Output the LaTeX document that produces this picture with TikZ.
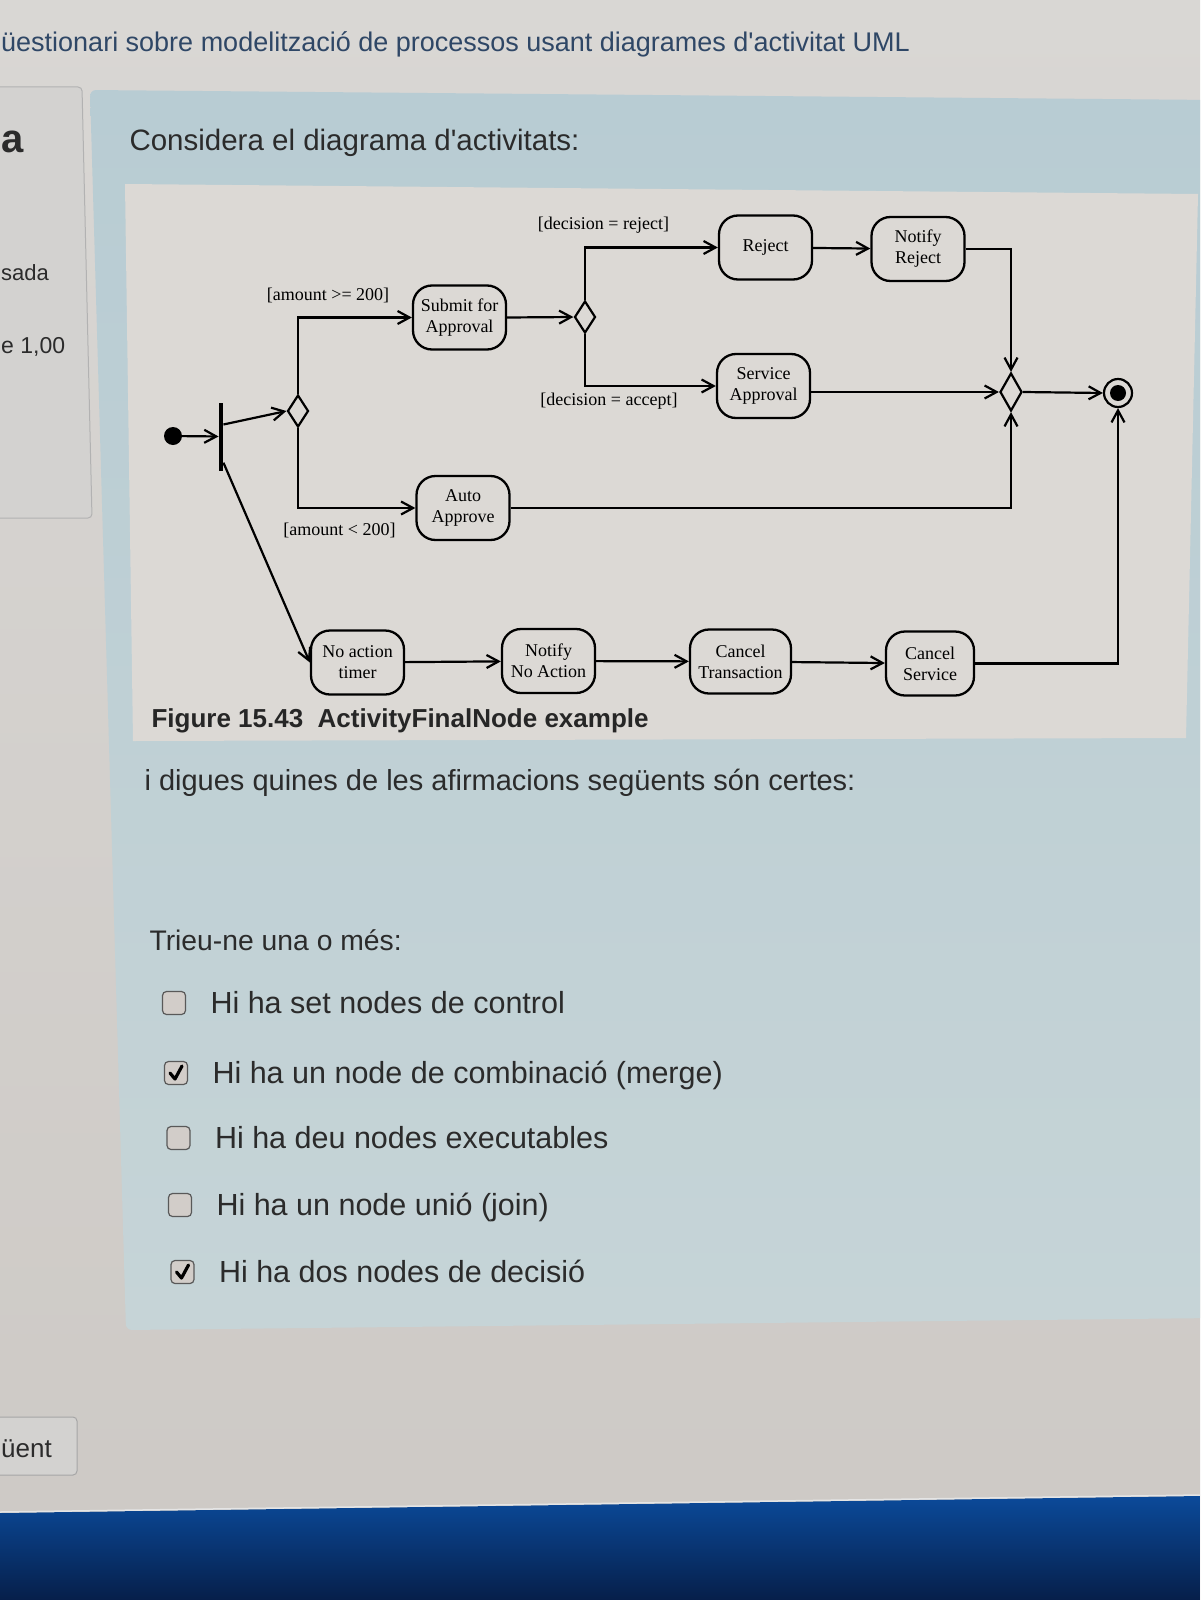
\documentclass[tikz,border=0pt]{standalone}
\usepackage{fontspec}
\setmainfont{Liberation Serif}
\setsansfont[Ligatures=TeXOff]{Liberation Sans}
\usetikzlibrary{arrows.meta,shapes.geometric}

\definecolor{pagetop}{HTML}{D9D7D4}
\definecolor{pagebot}{HTML}{CDC9C5}
\definecolor{paneltop}{HTML}{B8CCD3}
\definecolor{panelbot}{HTML}{C6D4D7}
\definecolor{figbg}{HTML}{DCD9D5}
\definecolor{sidebg}{HTML}{D3D2D0}
\definecolor{titleblue}{HTML}{2F4766}
\definecolor{pagetext}{HTML}{2B2B2B}
\definecolor{boxgrey}{HTML}{D2CDC9}
\definecolor{navytop}{HTML}{0B4A9A}
\definecolor{navybot}{HTML}{061F4A}

\begin{document}
\begin{tikzpicture}[x=1pt, y=-1pt,
  act/.style={draw, line width=2.3pt, rounded corners=19pt, minimum width=93pt,
    minimum height=64pt, inner sep=1pt, align=center, font=\fontsize{18}{21}\selectfont},
  dec/.style={draw, diamond, line width=2.2pt, inner sep=0pt, minimum width=21pt, minimum height=32pt},
  guard/.style={font=\fontsize{18}{20}\selectfont},
  flow/.style={line width=2.2pt, -{Straight Barb[length=12pt, width=13pt]}},
  pagetxt/.style={anchor=base west, text=pagetext, font=\sffamily\fontsize{29}{33}\selectfont},
  tickbox/.style={draw=gray!70!black, fill=boxgrey, rounded corners=4pt, line width=1.2pt,
    minimum size=23pt, inner sep=0pt}]
\useasboundingbox (0,0) rectangle (1200,1600);
\clip (0,0) rectangle (1200,1600);

% page, side column and question panel
\shade[top color=pagetop, bottom color=pagebot] (0,0) rectangle (1200,1600);
\filldraw[fill=sidebg, draw=gray!60, line width=1pt, rounded corners=4pt]
  (-10,87) -- (82,87) -- (92,518) -- (-10,518) -- cycle;
\shade[top color=paneltop, bottom color=panelbot, rounded corners=6pt]
  (90,90) -- (1215,100) -- (1215,1318) -- (126,1330) -- cycle;
\fill[figbg] (125,184) -- (1198,194) -- (1186,738) -- (133,741) -- cycle;
\shade[top color=navytop, bottom color=navybot] (0,1513) -- (1200,1496) -- (1200,1600) -- (0,1600) -- cycle;
\draw[white!80!gray, line width=1.5pt] (0,1512) -- (1200,1495);
\filldraw[fill=sidebg, draw=gray!70, line width=1pt, rounded corners=4pt] (-10,1417) rectangle (77,1475);

\node[anchor=base west, inner sep=1pt, text=titleblue, font=\sffamily\fontsize{27}{30}\selectfont] (title) at (0,52)
  {üestionari sobre modelització de processos usant diagrames d'activitat UML};
\node[anchor=base west, inner sep=1pt, text=pagetext, font=\sffamily\bfseries\fontsize{40}{44}\selectfont] (qnum) at (0,152) {a};
\node[anchor=base west, inner sep=1pt, text=pagetext, font=\sffamily\fontsize{22}{26}\selectfont] (state) at (0,280) {sada};
\node[anchor=base west, inner sep=1pt, text=pagetext, font=\sffamily\fontsize{23}{26}\selectfont] (grade) at (0,353) {e 1,00};
\node[anchor=base west, inner sep=1pt, text=pagetext, font=\sffamily\fontsize{26}{30}\selectfont] (next) at (0,1457) {üent};

\node[pagetxt, font=\sffamily\fontsize{29.5}{33}\selectfont] (intro) at (126,150) {Considera el diagrama d'activitats:};
\node[anchor=base west, text=black!85, font=\sffamily\bfseries\fontsize{26}{29}\selectfont] (caption) at (148,727)
  {Figure 15.43~ ActivityFinalNode example};
\node[pagetxt] (ask) at (141,790) {i digues quines de les afirmacions següents són certes:};
\node[pagetxt, font=\sffamily\fontsize{28.3}{32}\selectfont] (choose) at (146,950) {Trieu-ne una o més:};

% answers
\foreach \ypos/\xbox/\answer/\marked [count=\n] in
  {1003/174/{Hi ha set nodes de control}/0,
   1073/176/{Hi ha un node de combinació (merge)}/1,
   1138/178.5/{Hi ha deu nodes executables}/0,
   1205/180/{Hi ha un node unió (join)}/0,
   1272/182.5/{Hi ha dos nodes de decisió}/1}
{
  \node[tickbox] (box\n) at (\xbox,\ypos) {};
  \node[pagetxt, font=\sffamily\fontsize{30.5}{34}\selectfont] (answer\n) at (\xbox+33,\ypos+10) {\answer};
  \ifnum\marked=1
    \draw[line width=3.2pt, line cap=round, line join=round]
      ([shift={(-6,0)}]box\n.center) -- ([shift={(-1,6)}]box\n.center) -- ([shift={(6,-7)}]box\n.center);
  \fi
}

% activity diagram
\node[circle, fill, minimum size=18pt, inner sep=0pt] (init) at (173,436) {};
\node[fill, minimum width=4.5pt, minimum height=68pt, inner sep=0pt] (fork) at (221,436.5) {};
\node[dec] (dec1) at (298,411) {};
\node[act] (submit) at (459.5,317.5) {Submit for\\Approval};
\node[act] (auto) at (463,508) {Auto\\Approve};
\node[dec] (dec2) at (585,317) {};
\node[act] (reject) at (765.5,247.5) {Reject};
\node[act] (notrej) at (918,249) {Notify\\Reject};
\node[act] (service) at (763.5,386) {Service\\Approval};
\node[dec, minimum width=22pt, minimum height=38pt] (merge) at (1011,392) {};
\node[circle, draw, line width=2.2pt, minimum size=28pt, inner sep=0pt] (final) at (1118,393) {};
\fill (final.center) circle (8pt);
\node[act] (noact) at (357.5,662.5) {No action\\timer};
\node[act] (notnoact) at (548.5,661) {Notify\\No Action};
\node[act, minimum width=101pt] (canctr) at (740.5,661.5) {Cancel\\Transaction};
\node[act, minimum width=88pt] (cancsrv) at (930,663.5) {Cancel\\Service};

\node[guard] (g1) at (328,295) {[amount >= 200]};
\node[guard] (g2) at (339.5,530) {[amount < 200]};
\node[guard] (g3) at (603.5,225) {[decision = reject]};
\node[guard] (g4) at (609,401) {[decision = accept]};

\draw[flow] (init) -- (fork);
\draw[flow] ([yshift=12pt]fork.east) -- (dec1.west);
\draw[flow] ([yshift=8pt]fork.south east) -- (noact.west);
\draw[flow] (dec1.north) |- (submit.west);
\draw[flow] (dec1.south) |- (auto.west);
\draw[flow] (submit.east) -- (dec2.west);
\draw[flow] (dec2.north) |- (reject.west);
\draw[flow] (dec2.south) |- (service.west);
\draw[flow] (reject) -- (notrej);
\draw[flow] (notrej.east) -| (merge.north);
\draw[flow] (service.east |- merge.west) -- (merge.west);
\draw[flow] (auto.east) -| (merge.south);
\draw[flow] (merge.east) -- (final.west);
\draw[flow] (noact) -- (notnoact);
\draw[flow] (notnoact) -- (canctr);
\draw[flow] (canctr) -- (cancsrv);
\draw[flow] (cancsrv.east) -| (final.south);
\end{tikzpicture}
\end{document}
